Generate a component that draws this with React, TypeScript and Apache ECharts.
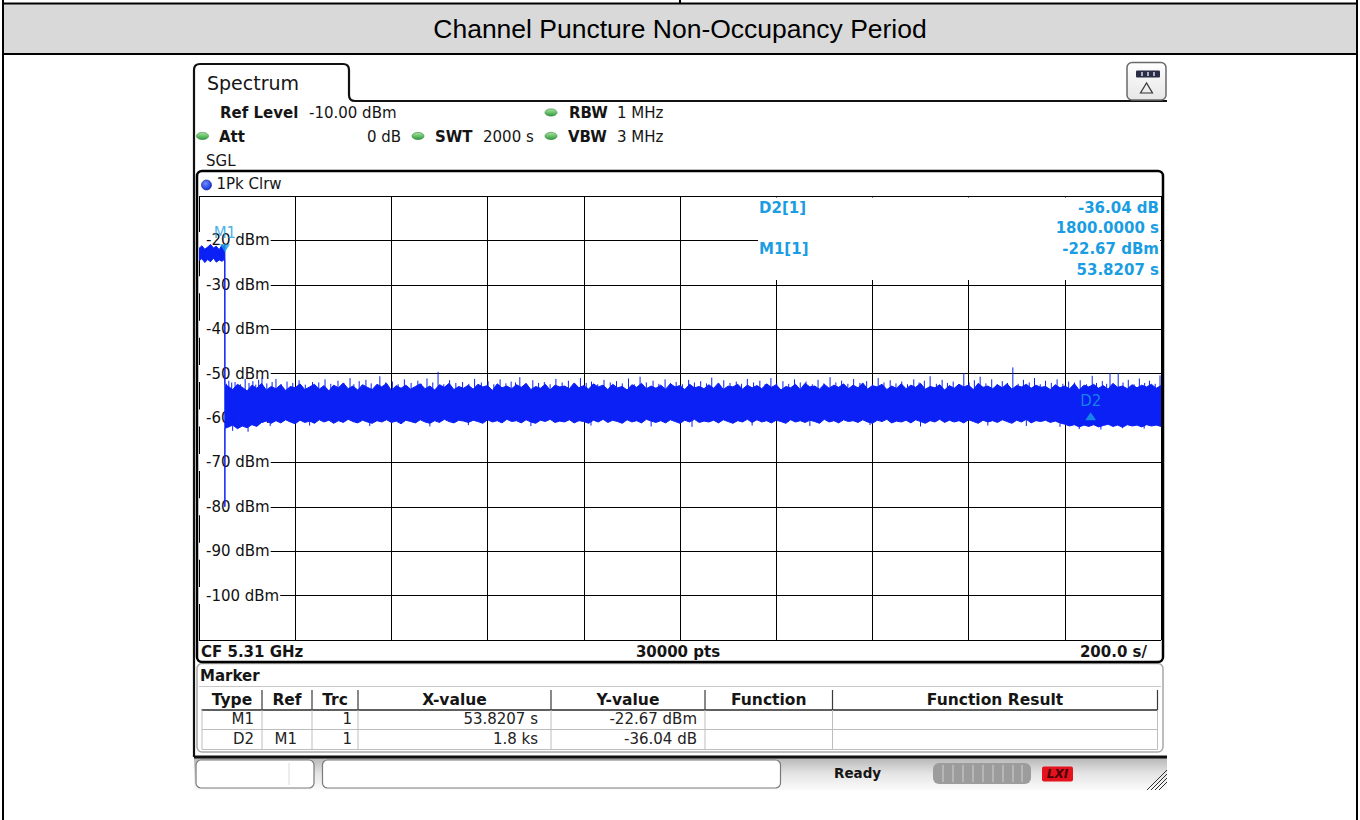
import React, { useEffect, useRef } from 'react';
import * as echarts from 'echarts';

// ---------- content ----------
const TITLE = 'Channel Puncture Non-Occupancy Period';
const TAB_LABEL = 'Spectrum';
const TRACE_LABEL = '1Pk Clrw';
const FOOTER_LEFT = 'CF 5.31 GHz';
const FOOTER_MID = '30000 pts';
const FOOTER_RIGHT = '200.0 s/';

const X_MIN = 0;
const X_MAX = 2000;
const X_INTERVAL = 200;
const Y_MIN = -110;
const Y_MAX = -10;
const Y_INTERVAL = 10;
const Y_TICK_LABELS = [-20, -30, -40, -50, -60, -70, -80, -90, -100];

// trace before / at marker M1 (time s, upper and lower envelope dBm)
const HEAD_TIME = [0, 6, 12, 18, 24, 30, 36, 42, 48, 53.5, 53.8207, 54.0];
const HEAD_MAX = [-21.8, -21.2, -22.0, -21.5, -20.9, -21.7, -21.3, -22.1, -21.0, -21.6, -21.0, -52.6];
const HEAD_MIN = [-24.6, -24.1, -25.0, -24.3, -24.8, -24.0, -24.9, -24.4, -24.7, -24.2, -80.0, -62.3];

// noise band after M1, sampled every 10 s from 60 s
const BAND_START = 60;
const BAND_STEP = 10;
const BAND_MAX = [
  -52.8, -53.6, -52.4, -53.1, -53.9, -52.6, -53.3, -52.2, -53.7, -52.9,
  -53.4, -52.5, -53.8, -52.9, -53.2, -52.3, -53.6, -53.0, -52.4, -53.5,
  -52.7, -53.9, -52.6, -53.2, -52.1, -53.4, -52.8, -53.7, -52.5, -53.1,
  -53.6, -52.4, -53.0, -52.2, -53.8, -52.7, -53.3, -52.6, -53.5, -52.9,
  -52.3, -53.4, -52.8, -53.7, -52.5, -53.1, -52.2, -53.6, -52.9, -53.3,
  -52.6, -53.5, -52.4, -53.0, -52.7, -53.8, -52.3, -53.2, -52.8, -53.4,
  -52.5, -53.1, -52.2, -53.6, -52.9, -53.3, -52.4, -53.7, -52.6, -53.0,
  -52.8, -53.4, -52.1, -53.2, -52.7, -53.5, -52.3, -53.0, -52.6, -53.6,
  -52.4, -53.2, -52.9, -53.7, -52.5, -53.1, -52.2, -53.4, -52.8, -53.3,
  -52.6, -53.5, -52.3, -53.0, -52.7, -53.6, -52.4, -53.2, -52.9, -53.4,
  -52.5, -53.3, -52.1, -53.6, -52.8, -53.0, -52.4, -53.5, -52.6, -53.2,
  -52.7, -53.4, -52.3, -53.1, -52.5, -53.7, -52.9, -53.2, -52.4, -53.6,
  -52.2, -53.0, -52.8, -53.5, -52.4, -53.3, -52.6, -53.1, -52.3, -53.4,
  -52.6, -53.2, -52.1, -53.5, -52.7, -53.0, -52.4, -53.6, -52.8, -53.3,
  -52.3, -53.4, -52.6, -53.1, -52.2, -53.5, -52.9, -53.2, -52.5, -53.7,
  -52.7, -53.3, -52.4, -53.0, -52.6, -53.6, -52.2, -53.1, -52.8, -53.4,
  -52.5, -53.2, -52.3, -53.5, -52.7, -53.0, -52.4, -53.3, -52.6, -53.1,
  -52.9, -53.6, -52.5, -53.2, -52.8, -53.4, -52.3, -53.7, -52.6, -53.0,
  -52.4, -53.3, -52.7, -53.5, -52.2, -53.1, -52.8, -53.4, -52.5, -53.2,
  -52.6, -53.0, -52.4, -53.3, -52.7,
];
const BAND_MIN = [
  -62.1, -61.6, -62.4, -61.8, -62.2, -61.5, -61.9, -61.0, -60.7, -61.2,
  -60.6, -61.1, -60.4, -60.9, -61.3, -60.5, -61.0, -60.7, -61.2, -60.4,
  -60.9, -60.5, -61.2, -60.6, -61.0, -60.3, -60.8, -61.1, -60.5, -60.9,
  -61.2, -60.6, -60.9, -60.4, -61.0, -60.7, -61.3, -60.5, -60.8, -61.1,
  -60.4, -60.9, -61.2, -60.6, -61.0, -60.3, -60.8, -61.1, -60.5, -60.7,
  -61.0, -60.5, -60.8, -61.2, -60.4, -60.9, -60.6, -61.1, -60.3, -60.8,
  -60.6, -61.1, -60.4, -60.9, -61.2, -60.5, -60.8, -60.3, -61.0, -60.7,
  -60.9, -60.4, -61.1, -60.6, -60.8, -61.2, -60.5, -60.9, -60.3, -61.0,
  -60.5, -60.8, -61.2, -60.4, -60.9, -60.6, -61.1, -60.3, -60.7, -61.0,
  -60.6, -61.1, -60.4, -60.8, -61.2, -60.5, -60.9, -60.3, -61.0, -60.7,
  -60.9, -60.5, -61.1, -60.4, -60.8, -61.2, -60.6, -60.9, -60.3, -61.0,
  -60.4, -60.9, -60.6, -61.1, -60.5, -60.8, -61.2, -60.4, -60.9, -60.6,
  -61.0, -60.5, -60.8, -61.2, -60.3, -60.9, -60.6, -61.1, -60.4, -60.8,
  -60.6, -61.0, -60.4, -60.9, -61.2, -60.5, -60.8, -60.3, -61.1, -60.7,
  -60.9, -60.5, -61.1, -60.4, -60.8, -61.2, -60.6, -60.9, -60.3, -61.0,
  -60.5, -60.9, -60.6, -61.1, -60.4, -60.8, -61.2, -60.5, -60.9, -60.6,
  -61.0, -60.4, -60.8, -61.2, -60.5, -60.9, -60.3, -61.1, -60.6, -60.8,
  -60.5, -61.0, -60.7, -61.1, -61.4, -61.8, -61.5, -62.0, -61.6, -61.9,
  -61.5, -62.0, -61.7, -61.4, -61.9, -61.6, -62.1, -61.5, -61.8, -61.6,
  -62.0, -61.5, -61.8, -61.6, -61.9,
];

// narrow peaks sticking out of the band [time s, level dBm]
const SPIKES_UP = [
  [62, -51.6], [75, -51.9], [96, -51.2], [112, -51.7], [124, -51.4], [131, -50.9], [160, -51.2], [183, -51.8],
  [208, -51.5], [236, -51.9], [262, -51.3], [289, -51.6], [314, -51.0], [333, -51.7], [347, -51.4], [376, -50.6],
  [402, -51.8], [427, -51.3], [455, -51.6], [474, -51.1], [497, -49.6], [521, -51.5], [548, -51.9], [573, -51.2],
  [601, -51.7], [626, -51.3], [649, -51.8], [667, -50.8], [694, -51.5], [718, -51.9], [742, -51.2], [768, -51.6],
  [793, -51.0], [816, -51.8], [842, -51.4], [868, -51.7], [893, -51.1], [917, -50.7], [944, -51.6], [969, -51.3],
  [992, -51.9], [1018, -51.4], [1043, -51.7], [1066, -50.9], [1091, -51.5], [1117, -51.8], [1140, -51.2], [1166, -51.6],
  [1189, -51.0], [1214, -51.7], [1238, -51.3], [1262, -51.8], [1287, -51.4], [1312, -50.8], [1336, -51.6], [1361, -51.2],
  [1388, -51.7], [1412, -51.0], [1437, -51.5], [1461, -51.8], [1486, -51.3], [1508, -51.6], [1520, -50.6], [1545, -51.4],
  [1568, -51.8], [1590, -49.9], [1612, -51.5], [1624, -50.7], [1648, -51.3], [1670, -51.7], [1692, -48.6], [1714, -51.4],
  [1737, -51.0], [1760, -51.6], [1784, -51.3], [1808, -51.8], [1832, -51.5], [1857, -50.5], [1878, -51.7], [1894, -49.9],
  [1911, -49.9], [1932, -51.4], [1955, -51.1], [1976, -51.6], [1998, -50.4],
];
// shorter peaks forming the ragged upper edge
const SPIKES_UP_SHORT = [
  [57, -52.3], [68, -52.0], [86, -52.4], [104, -52.1], [118, -52.5], [141, -52.2], [152, -51.9], [171, -52.4],
  [195, -52.1], [221, -52.5], [249, -52.0], [274, -52.3], [301, -52.1], [322, -52.4], [358, -52.2], [388, -52.0],
  [414, -52.4], [441, -52.1], [462, -52.3], [486, -52.0], [509, -52.4], [534, -52.1], [561, -52.3], [587, -52.0],
  [613, -52.4], [638, -52.2], [658, -52.0], [681, -52.3], [706, -52.1], [730, -52.4], [755, -52.0], [781, -52.3],
  [805, -52.1], [829, -52.4], [855, -52.0], [880, -52.2], [905, -52.4], [930, -52.0], [956, -52.3], [980, -52.1],
  [1005, -52.4], [1030, -52.0], [1055, -52.2], [1079, -52.4], [1104, -52.1], [1128, -52.3], [1153, -52.0], [1177, -52.4],
  [1201, -52.1], [1226, -52.3], [1250, -52.0], [1275, -52.4], [1299, -52.2], [1324, -52.0], [1349, -52.3], [1374, -52.1],
  [1400, -52.4], [1424, -52.0], [1449, -52.2], [1473, -52.4], [1497, -52.0], [1533, -52.3], [1556, -52.1], [1579, -52.4],
  [1601, -52.0], [1636, -52.2], [1659, -52.4], [1681, -52.1], [1703, -52.3], [1726, -52.0], [1749, -52.4], [1772, -52.1],
  [1796, -52.3], [1820, -52.0], [1845, -52.4], [1866, -52.1], [1887, -52.3], [1921, -52.0], [1944, -52.4], [1966, -52.1],
  [1988, -52.3],
];
const SPIKES_DOWN = [
  [70, -62.9], [102, -63.1], [148, -61.8], [230, -61.7], [355, -61.8], [480, -61.9], [560, -61.6], [690, -61.8],
  [815, -61.7], [940, -61.9], [1025, -62.0], [1150, -61.7], [1270, -61.8], [1395, -61.6], [1500, -61.9], [1640, -61.7],
  [1720, -61.8], [1790, -62.0], [1830, -62.5], [1875, -62.6], [1920, -62.3], [1965, -62.4],
];
const SPIKE_UP_BASE = -54;
const SPIKE_DOWN_BASE = -59;

const M1 = { name: 'M1', time: 53.8207, level: -22.67 };
const D2_DELTA = { name: 'D2', time: 1800, level: -36.04 };

const MARKER_INFO = [
  { label: 'D2[1]', lines: ['-36.04 dB', '1800.0000 s'] },
  { label: 'M1[1]', lines: ['-22.67 dBm', '53.8207 s'] },
];

const TABLE_TITLE = 'Marker';
const TABLE_COLUMNS = ['Type', 'Ref', 'Trc', 'X-value', 'Y-value', 'Function', 'Function Result'];
const TABLE_ROWS = [
  ['M1', '', '1', '53.8207 s', '-22.67 dBm', '', ''],
  ['D2', 'M1', '1', '1.8 ks', '-36.04 dB', '', ''],
];
const STATUS_TEXT = 'Ready';

// ---------- styles ----------
const TRACE_COLOR = '#0a20f4';
const MARKER_COLOR = '#1a9de2';
const FONT = 'DejaVu Sans';
const TEXT_COLOR = '#151515';

const FRAME_PATH = 'M194 757 L194 70 Q194 64 200 64 L343 64 Q349 64 349 70 L349 95 Q349 101 355 101 L1167 101';

type TxtOpts = { size?: number; bold?: boolean; align?: string; color?: string; family?: string; italic?: boolean };
const txt = (x: number, y: number, text: string, o: TxtOpts = {}) => ({
  type: 'text',
  x,
  y,
  z: 30,
  silent: true,
  style: {
    text,
    fill: o.color || TEXT_COLOR,
    fontFamily: o.family || FONT,
    fontSize: o.size || 15,
    fontWeight: o.bold ? 'bold' : 'normal',
    fontStyle: o.italic ? 'italic' : 'normal',
    align: o.align || 'left',
    verticalAlign: 'middle',
  },
});
const ln = (x1: number, y1: number, x2: number, y2: number, stroke = '#000', lineWidth = 1, z = 25) => ({
  type: 'line',
  z,
  silent: true,
  shape: { x1, y1, x2, y2 },
  style: { stroke, lineWidth },
});
const box = (x: number, y: number, width: number, height: number, style: any, r: any = 0, z = 20) => ({
  type: 'rect',
  z,
  silent: true,
  shape: { x, y, width, height, r },
  style,
});
const greenDot = (cx: number, cy: number) => ({
  type: 'ellipse',
  z: 30,
  silent: true,
  shape: { cx, cy, rx: 6, ry: 3.6 },
  style: {
    fill: { type: 'linear', x: 0, y: 0, x2: 0, y2: 1, colorStops: [{ offset: 0, color: '#a8e6a0' }, { offset: 1, color: '#2f9a3c' }] },
    stroke: '#2c7d34',
    lineWidth: 0.6,
  },
});

function buildGraphics() {
  const g: any[] = [];
  // document table
  g.push(box(3, 3.5, 1354, 50.5, { fill: '#d9d9d9', stroke: '#000', lineWidth: 2 }, 0, 5));
  g.push(ln(3, 0, 3, 820, '#000', 2));
  g.push(ln(1357, 0, 1357, 820, '#000', 2));
  g.push(ln(680, 0, 680, 4, '#000', 2));
  g.push(txt(680, 28.5, TITLE, { size: 26.5, family: 'Liberation Sans', align: 'center', color: '#000' }));

  // instrument frame + tab
  g.push({ type: 'specFrame', x: 0, y: 0, z: 25, silent: true, style: { fill: 'none', stroke: '#111', lineWidth: 2.2 } });
  g.push(txt(207, 83, TAB_LABEL, { size: 19 }));
  g.push(box(1127, 62.5, 39, 37.5, {
    fill: { type: 'linear', x: 0, y: 0, x2: 0, y2: 1, colorStops: [{ offset: 0, color: '#ffffff' }, { offset: 1, color: '#e6e6e6' }] },
    stroke: '#6a6a6a', lineWidth: 1.5,
  }, 5, 26));
  g.push(box(1136, 70.5, 24, 7, { fill: '#2a2d45' }, 1, 27));
  g.push(ln(1142, 72, 1142, 76, '#d8d8e8', 1.5, 28));
  g.push(ln(1148, 72, 1148, 76, '#d8d8e8', 1.5, 28));
  g.push(ln(1154, 72, 1154, 76, '#d8d8e8', 1.5, 28));
  g.push({ type: 'polygon', z: 28, silent: true, shape: { points: [[1146.5, 83], [1140.5, 93], [1152.5, 93]] }, style: { fill: 'none', stroke: '#333', lineWidth: 1.2 } });

  // settings header
  g.push(txt(220, 112.5, 'Ref Level', { bold: true }));
  g.push(txt(309, 112.5, '-10.00 dBm'));
  g.push(greenDot(551, 112.5));
  g.push(txt(569, 112.5, 'RBW', { bold: true }));
  g.push(txt(617, 112.5, '1 MHz'));
  g.push(greenDot(202.5, 136));
  g.push(txt(219, 136.5, 'Att', { bold: true }));
  g.push(txt(401, 136.5, '0 dB', { align: 'right' }));
  g.push(greenDot(418, 136));
  g.push(txt(435, 136.5, 'SWT', { bold: true }));
  g.push(txt(483, 136.5, '2000 s'));
  g.push(greenDot(551, 136));
  g.push(txt(568, 136.5, 'VBW', { bold: true }));
  g.push(txt(617, 136.5, '3 MHz'));
  g.push(txt(206, 160.5, 'SGL'));

  // plot frame
  g.push(box(197, 171, 966, 491, { fill: 'none', stroke: '#000', lineWidth: 2.5 }, 5, 26));
  g.push({
    type: 'circle', z: 30, silent: true, shape: { cx: 206.5, cy: 185, r: 5 },
    style: {
      fill: { type: 'radial', x: 0.4, y: 0.35, r: 0.7, colorStops: [{ offset: 0, color: '#6f8cff' }, { offset: 1, color: '#0b2bd8' }] },
      stroke: '#0a1a80', lineWidth: 0.6,
    },
  });
  g.push(txt(216.5, 183.5, TRACE_LABEL));
  g.push(txt(201, 651.5, FOOTER_LEFT, { bold: true }));
  g.push(txt(678, 651.5, FOOTER_MID, { bold: true, align: 'center' }));
  g.push(txt(1147, 651.5, FOOTER_RIGHT, { bold: true, align: 'right' }));

  // marker info block (covers the grid in the top right)
  g.push(box(758, 197.5, 402, 82.5, { fill: '#fff' }, 0, 8));
  MARKER_INFO.forEach((m, i) => {
    const y0 = 207.5 + i * 41.5;
    g.push(txt(759, y0, m.label, { bold: true, color: MARKER_COLOR }));
    g.push(txt(1159, y0, m.lines[0], { bold: true, color: MARKER_COLOR, align: 'right' }));
    g.push(txt(1159, y0 + 20.5, m.lines[1], { bold: true, color: MARKER_COLOR, align: 'right' }));
  });

  // marker table panel
  g.push(box(197, 663.5, 966, 88.5, { fill: '#fff', stroke: '#a8a8a8', lineWidth: 1.5 }, 5, 20));
  g.push(txt(200, 676, TABLE_TITLE, { bold: true }));
  g.push(ln(199, 686.5, 1161, 686.5, '#c8c8c8', 1));
  const colEdges = [202, 262, 312, 358, 551, 705, 832.5, 1157.5];
  const rightPad = [8, 15, 6, 13, 8, 8, 8];
  g.push(ln(201.5, 710, 1158, 710, '#2a2a2a', 1.6));
  colEdges.slice(1).forEach((x) => g.push(ln(x, 690, x, 710, '#3a3a3a', 1.2)));
  colEdges.forEach((x) => g.push(ln(x, 710, x, 749.5, '#bdbdbd', 1)));
  g.push(ln(202, 729.5, 1157.5, 729.5, '#bdbdbd', 1));
  g.push(ln(202, 749.5, 1157.5, 749.5, '#bdbdbd', 1));
  TABLE_COLUMNS.forEach((c, i) => {
    g.push(txt((colEdges[i] + colEdges[i + 1]) / 2, 700, c, { bold: true, size: 15.5, align: 'center' }));
  });
  TABLE_ROWS.forEach((row, r) => {
    row.forEach((cell, i) => {
      if (cell) g.push(txt(colEdges[i + 1] - rightPad[i], 719 + r * 20, cell, { align: 'right', color: '#222' }));
    });
  });

  // status bar
  g.push(box(194, 757, 973, 33, {
    fill: { type: 'linear', x: 0, y: 0, x2: 0, y2: 1, colorStops: [{ offset: 0, color: '#b4b4b4' }, { offset: 0.5, color: '#e4e4e4' }, { offset: 1, color: '#fbfbfb' }] },
  }, 0, 18));
  g.push(ln(194, 757, 1167, 757, '#111', 3));
  g.push(box(196, 760, 118, 28, { fill: '#fff', stroke: '#7a7a7a', lineWidth: 1.2 }, 5, 22));
  g.push(ln(289, 763, 289, 785, '#dadada', 1));
  g.push(box(322.5, 760, 458, 28, { fill: '#fff', stroke: '#7a7a7a', lineWidth: 1.2 }, 5, 22));
  g.push(txt(834, 773, STATUS_TEXT, { bold: true, size: 13.5 }));
  g.push(box(933, 763, 98, 21, { fill: '#9c9c9c' }, 6, 22));
  [943, 953, 963, 973, 983, 993, 1003, 1013, 1022].forEach((x) => g.push(ln(x, 765, x, 782, '#c9c9c9', 1.2)));
  g.push(box(1042, 766.5, 31, 15, { fill: '#e3121c' }, 2, 22));
  g.push(txt(1057.5, 774, 'LXI', { bold: true, italic: true, size: 12, align: 'center', color: '#4a0008', family: 'DejaVu Sans' }));
  [[1147, 790, 1167, 770], [1151, 790, 1167, 774], [1155, 790, 1167, 778], [1159, 790, 1167, 782]].forEach((s) =>
    g.push(ln(s[0], s[1], s[2], s[3], '#2e2e2e', 1)),
  );
  return g;
}

function buildTrace() {
  const times: number[] = [...HEAD_TIME];
  const maxs: number[] = [...HEAD_MAX];
  const mins: number[] = [...HEAD_MIN];
  const n = Math.min(BAND_MAX.length, BAND_MIN.length);
  for (let i = 0; i < n; i++) {
    times.push(BAND_START + i * BAND_STEP);
    maxs.push(BAND_MAX[i]);
    mins.push(BAND_MIN[i]);
  }
  return times.map((t, i) => [t, maxs[i], mins[i]]);
}

export default function App() {
  const ref = useRef<HTMLDivElement>(null);

  useEffect(() => {
    document.body.style.margin = '0';
    echarts.graphic.registerShape('specFrame', echarts.graphic.extendPath(FRAME_PATH, {}));
    const chart = echarts.init(ref.current as HTMLDivElement, undefined, { renderer: 'svg' });
    const trace = buildTrace();
    const d2 = { name: D2_DELTA.name, time: M1.time + D2_DELTA.time, level: M1.level + D2_DELTA.level };

    const option: any = {
      animation: false,
      backgroundColor: '#ffffff',
      grid: { left: 199, top: 196, width: 962, height: 444, containLabel: false },
      xAxis: {
        type: 'value',
        min: X_MIN,
        max: X_MAX,
        interval: X_INTERVAL,
        axisLine: { show: false },
        axisTick: { show: false },
        axisLabel: { show: false },
        splitLine: { show: true, lineStyle: { color: '#000', width: 1 } },
      },
      yAxis: {
        type: 'value',
        min: Y_MIN,
        max: Y_MAX,
        interval: Y_INTERVAL,
        axisLine: { show: false },
        axisTick: { show: false },
        splitLine: { show: true, lineStyle: { color: '#000', width: 1 } },
        axisLabel: {
          inside: true,
          margin: 0,
          showMinLabel: false,
          showMaxLabel: false,
          formatter: (v: number) => (Y_TICK_LABELS.indexOf(v) >= 0 ? `${v} dBm` : ''),
          color: '#111',
          fontFamily: FONT,
          fontSize: 15,
          backgroundColor: '#fff',
          padding: [1, 1, 1, 7],
        },
      },
      graphic: { elements: buildGraphics() },
      series: [
        {
          type: 'custom',
          name: 'trace',
          clip: true,
          z: 2,
          data: trace,
          encode: { x: 0, y: [1, 2] },
          renderItem: (params: any, api: any) => {
            if (params.dataIndex !== 0) return null;
            const pts: number[][] = [];
            for (let i = 0; i < trace.length; i++) pts.push(api.coord([trace[i][0], trace[i][1]]));
            for (let i = trace.length - 1; i >= 0; i--) pts.push(api.coord([trace[i][0], trace[i][2]]));
            return {
              type: 'polygon',
              shape: { points: pts },
              style: { fill: TRACE_COLOR, stroke: TRACE_COLOR, lineWidth: 1 },
            };
          },
        },
        {
          type: 'custom',
          name: 'peaks',
          clip: true,
          z: 2,
          data: [
            ...SPIKES_UP.map((s) => [s[0], s[1], SPIKE_UP_BASE]),
            ...SPIKES_UP_SHORT.map((s) => [s[0], s[1], SPIKE_UP_BASE]),
            ...SPIKES_DOWN.map((s) => [s[0], s[1], SPIKE_DOWN_BASE]),
          ],
          encode: { x: 0, y: [1, 2] },
          renderItem: (params: any, api: any) => {
            const a = api.coord([api.value(0), api.value(1)]);
            const b = api.coord([api.value(0), api.value(2)]);
            return {
              type: 'line',
              shape: { x1: a[0], y1: a[1], x2: b[0], y2: b[1] },
              style: { stroke: TRACE_COLOR, lineWidth: 1 },
            };
          },
        },
        {
          type: 'scatter',
          name: 'M1',
          z: 6,
          symbol: 'triangle',
          symbolRotate: 180,
          symbolSize: [10, 8],
          symbolOffset: [0, '-50%'],
          itemStyle: { color: MARKER_COLOR },
          label: { show: true, position: 'top', distance: 4, formatter: M1.name, color: MARKER_COLOR, fontFamily: FONT, fontSize: 15 },
          data: [[M1.time, M1.level]],
        },
        {
          type: 'scatter',
          name: 'D2',
          z: 6,
          symbol: 'triangle',
          symbolSize: [11, 8],
          symbolOffset: [0, '50%'],
          itemStyle: { color: MARKER_COLOR },
          label: { show: true, position: 'top', distance: 4, formatter: d2.name, color: MARKER_COLOR, fontFamily: FONT, fontSize: 15 },
          data: [[d2.time, d2.level]],
        },
      ],
    };
    chart.setOption(option);
    return () => chart.dispose();
  }, []);

  return <div ref={ref} style={{ width: 1360, height: 820 }} />;
}
